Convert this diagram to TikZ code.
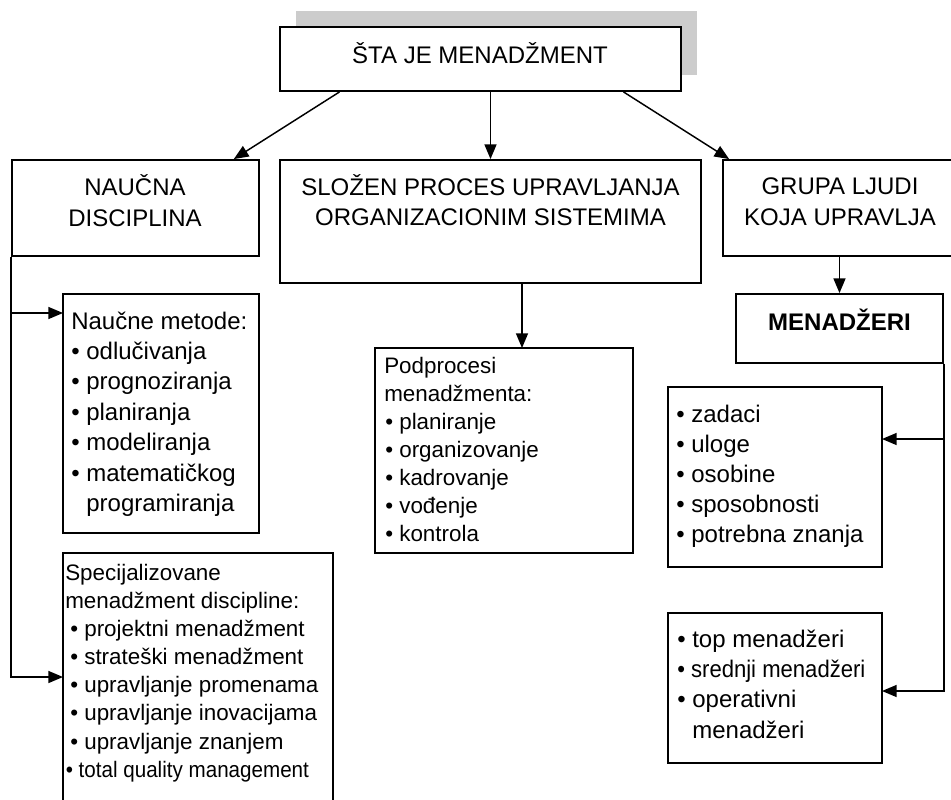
\documentclass[tikz,border=0pt]{standalone}
\usepackage{fontspec}
\setmainfont{Liberation Sans}
\newfontfamily\narrowfont[FakeStretch=0.92]{Liberation Sans}
\usetikzlibrary{arrows.meta,fit,calc}
\tikzset{
  box/.style={draw,line width=1.4pt,inner sep=0pt},
  arr/.style={line width=1.1pt,-{Triangle[length=11pt,width=9pt]}},
  hd/.style={inner sep=0pt,anchor=base,font=\fontsize{18}{22}\selectfont},
  ln/.style={inner sep=0pt,anchor=base west,font=\fontsize{18}{22}\selectfont},
  lns/.style={inner sep=0pt,anchor=base west,font=\fontsize{16.8}{20}\selectfont},
}
\begin{document}
\begin{tikzpicture}[x=0.75pt,y=-0.75pt]
\useasboundingbox (0,0) rectangle (951,800);
\clip (0,0) rectangle (951,800);
% title with shadow
\fill[gray!40] (296,11) rectangle (697,75);
\node[box,fill=white,fit={(280,27) (681,91)}] (top) {};
\node[hd] (topT) at (480,63) {ŠTA JE MENADŽMENT};
% three branches
\node[box,fit={(12,160) (259,256)}] (nauc) {};
\node[hd] (naucA) at (135,195) {NAUČNA};
\node[hd] (naucB) at (135,226) {DISCIPLINA};
\node[box,fit={(280,160) (701,283)}] (proc) {};
\node[hd] (procA) at (490.5,195) {SLOŽEN PROCES UPRAVLJANJA};
\node[hd] (procB) at (490.5,225) {ORGANIZACIONIM SISTEMIMA};
\node[box,fit={(723,160) (957,256)}] (grupa) {};
\node[hd] (grupaA) at (840,194) {GRUPA LJUDI};
\node[hd] (grupaB) at (840,225) {KOJA UPRAVLJA};
\node[box,fit={(736,294) (943,363)}] (menad) {};
\node[hd] (menadT) at (839.5,330) {\bfseries MENADŽERI};
% left column
\node[box,fit={(63,294) (259,533)}] (nm) {};
\node[ln] (nm1) at (71,329) {Naučne metode:};
\node[ln] (nm2) at (71,359.4) {• odlučivanja};
\node[ln] (nm3) at (71,389.8) {• prognoziranja};
\node[ln] (nm4) at (71,420.2) {• planiranja};
\node[ln] (nm5) at (71,450.6) {• modeliranja};
\node[ln] (nm6) at (71,481) {• matematičkog};
\node[ln] (nm7) at (71,511.4) {\hphantom{• }programiranja};
\node[box,fit={(63,553) (333,810)}] (sp) {};
\node[lns] (sp1) at (65,580) {Specijalizovane};
\node[lns] (sp2) at (65,608) {menadžment discipline:};
\node[lns] (sp3) at (70,636) {• projektni menadžment};
\node[lns] (sp4) at (70,664) {• strateški menadžment};
\node[lns] (sp5) at (70,692) {• upravljanje promenama};
\node[lns] (sp6) at (70,720) {• upravljanje inovacijama};
\node[lns] (sp7) at (70,749) {• upravljanje znanjem};
\node[lns] (sp8) at (65.5,777) {\narrowfont • total quality management};
% middle column
\node[box,fit={(375,348) (633,553)}] (pp) {};
\node[lns] (pp1) at (384,373) {Podprocesi};
\node[lns] (pp2) at (384,401) {menadžmenta:};
\node[lns] (pp3) at (385,429) {• planiranje};
\node[lns] (pp4) at (385,457) {• organizovanje};
\node[lns] (pp5) at (385,485) {• kadrovanje};
\node[lns] (pp6) at (385,513) {• vođenje};
\node[lns] (pp7) at (385,541) {• kontrola};
% right column
\node[box,fit={(668,387) (882,567)}] (zd) {};
\node[ln] (zd1) at (676,422) {• zadaci};
\node[ln] (zd2) at (676,452.2) {• uloge};
\node[ln] (zd3) at (676,482.4) {• osobine};
\node[ln] (zd4) at (676,512.6) {• sposobnosti};
\node[ln] (zd5) at (676,542.8) {• potrebna znanja};
\node[box,fit={(668,613) (882,763)}] (tm) {};
\node[ln] (tm1) at (677,647) {• top menadžeri};
\node[ln] (tm2) at (677,677.3) {\narrowfont • srednji menadžeri};
\node[ln] (tm3) at (677,707.6) {• operativni};
\node[ln] (tm4) at (677,738) {\hphantom{• }menadžeri};
% connectors
\coordinate (nmIn) at (63,313);
\coordinate (spIn) at (63,677);
\coordinate (ppIn) at (522,348);
\coordinate (zdIn) at (882,439);
\coordinate (tmIn) at (882,691);
\draw[arr] ($(top.south west)!0.15!(top.south east)$) -- ($(nauc.north west)!0.895!(nauc.north east)$);
\draw[arr] (top.south -| proc.north) -- (proc.north);
\draw[arr] ($(top.south west)!0.855!(top.south east)$) -- ($(grupa.north west)!0.03!(grupa.north east)$);
\draw[arr] (nauc.south west) |- (spIn);
\draw[arr] (nauc.south west |- nmIn) -- (nmIn);
\draw[arr] (proc.south -| ppIn) -- (ppIn);
\draw[arr] (grupa.south -| menad.north) -- (menad.north);
\draw[arr] (menad.south east) |- (tmIn);
\draw[arr] (menad.south east |- zdIn) -- (zdIn);
\end{tikzpicture}
\end{document}
